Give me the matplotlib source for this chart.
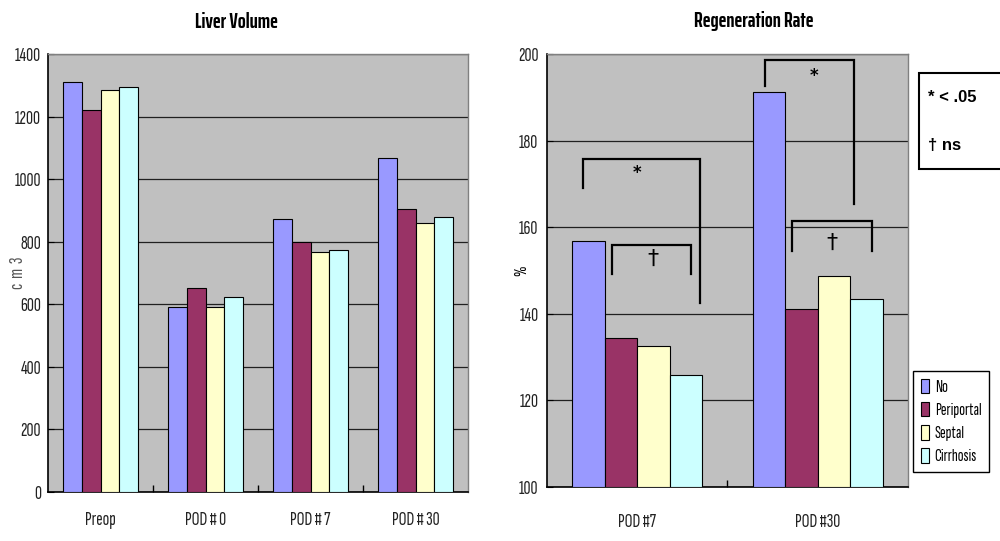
import numpy as np
import matplotlib
matplotlib.use('Agg')
import matplotlib.pyplot as plt
from matplotlib.patches import Patch, Rectangle

NARROW = ['Sofia Sans Extra Condensed', 'Saira ExtraCondensed', 'DejaVu Sans']
TITLE = ['Saira ExtraCondensed', 'DejaVu Sans']
plt.rcParams['font.family'] = NARROW

# Liver volume (cm3) per group and time point
vol_labels = ['Preop', 'POD # 0', 'POD # 7', 'POD # 30']
vol_no = [1309, 590, 872, 1067]
vol_periportal = [1220, 653, 800, 903]
vol_septal = [1286, 590, 766, 861]
vol_cirrhosis = [1294, 624, 774, 880]

# Regeneration rate (%)
rate_labels = ['POD #7', 'POD #30']
rate_no = [156.8, 191.2]
rate_periportal = [134.5, 141.1]
rate_septal = [132.5, 148.8]
rate_cirrhosis = [125.8, 143.5]

groups = ['No', 'Periportal', 'Septal', 'Cirrhosis']
colors = ['#9999FF', '#993366', '#FFFFCC', '#CCFFFF']

# significance brackets: (x_left, x_right, y_top, y_left_end, y_right_end, mark, mark_x, mark_y)
brackets = [
    (-0.30, 0.35, 175.8, 169.1, 142.4, '*', 0.0, 172.6),
    (-0.14, 0.30, 155.8, 149.1, 149.1, '\u2020', 0.09, 152.6),
    (0.71, 1.20, 198.7, 192.7, 165.3, '*', 0.98, 195.0),
    (0.86, 1.30, 161.4, 154.6, 154.6, '\u2020', 1.08, 156.4),
]

fig = plt.figure(figsize=(10, 5.41), dpi=100)


def draw_bars(ax, labels, series, ylim, yticks, xpad, ypad):
    # grouped bars in the old spreadsheet style
    x = np.arange(len(labels))
    w = 0.18
    for j, vals in enumerate(series):
        ax.bar(x + (j - 1.5) * w, np.array(vals) - ylim[0], w, bottom=ylim[0],
               color=colors[j], edgecolor='black', linewidth=0.8, zorder=3)
    ax.set_facecolor('#C0C0C0')
    ax.set_xlim(-0.5, len(labels) - 0.5)
    ax.set_ylim(*ylim)
    ax.set_yticks(yticks)
    ax.yaxis.grid(True, color='#202020', linewidth=0.9, zorder=1)
    ax.set_axisbelow(True)
    ax.set_xticks(x)
    ax.set_xticklabels(labels, fontsize=14, color='#222222')
    ax.set_xticks(np.arange(0.5, len(labels) - 0.5), minor=True)
    ax.tick_params(axis='x', which='major', length=0, pad=xpad)
    ax.tick_params(axis='x', which='minor', direction='in', length=5, width=1)
    ax.tick_params(axis='y', direction='in', length=4, labelsize=14,
                   labelcolor='#222222', pad=ypad)
    for s in ['left', 'bottom']:
        ax.spines[s].set_color('black')
        ax.spines[s].set_linewidth(1.2)
    for s in ['top', 'right']:
        ax.spines[s].set_color('#808080')
        ax.spines[s].set_linewidth(1.0)


# left: liver volume
ax1 = fig.add_axes([0.048, 0.0906, 0.420, 0.8096])
draw_bars(ax1, vol_labels, [vol_no, vol_periportal, vol_septal, vol_cirrhosis],
          (0, 1400), np.arange(0, 1401, 200), 14, 5)
fig.text(0.236, 1 - 28 / 541, 'Liver Volume', ha='center', va='baseline',
         fontsize=15, fontweight='bold', family=TITLE)
fig.text(0.018, 0.495, 'c  m  3', rotation=90, ha='center', va='center',
         fontsize=14, color='#555555')

# right: regeneration rate
ax2 = fig.add_axes([0.5467, 0.1004, 0.3613, 0.7992])
draw_bars(ax2, rate_labels, [rate_no, rate_periportal, rate_septal, rate_cirrhosis],
          (100, 200), np.arange(100, 201, 20), 19, 6)
fig.text(0.7535, 1 - 27 / 541, 'Regeneration Rate', ha='center', va='baseline',
         fontsize=15, fontweight='bold', family=TITLE)
fig.text(0.522, 0.50, '%', rotation=90, ha='center', va='center', fontsize=13)

for xl, xr, yt, yl, yr, mark, mx, my in brackets:
    ax2.plot([xl, xl, xr, xr], [yl, yt, yt, yr], color='black', lw=1.6,
             zorder=5, solid_joinstyle='miter')
    ax2.text(mx, my, mark, ha='center', va='center',
             fontsize=12 if mark == '*' else 16,
             fontweight='bold' if mark == '*' else 'normal',
             family='DejaVu Sans', zorder=6)

# significance key
fig.add_artist(Rectangle((0.919, 1 - 169 / 541), 0.09, 96 / 541,
                         transform=fig.transFigure, facecolor='white',
                         edgecolor='black', linewidth=1.5))
fig.text(0.928, 1 - 98 / 541, '* < .05', fontsize=12, fontweight='bold',
         family='Liberation Sans', va='center')
fig.text(0.928, 1 - 145 / 541, '\u2020 ns', fontsize=12, fontweight='bold',
         family=['Liberation Sans', 'DejaVu Sans'], va='center')

# group legend
handles = [Patch(facecolor=c, edgecolor='black', linewidth=0.8) for c in colors]
fig.legend(handles, groups, loc='upper left',
           bbox_to_anchor=(0.913, 1 - 371 / 541), fontsize=12.5,
           frameon=True, fancybox=False, edgecolor='black', framealpha=1,
           handlelength=0.5, handleheight=0.9, handletextpad=0.3,
           labelspacing=0.4, borderpad=0.45, borderaxespad=0)

fig.savefig('out.png', dpi=100)
